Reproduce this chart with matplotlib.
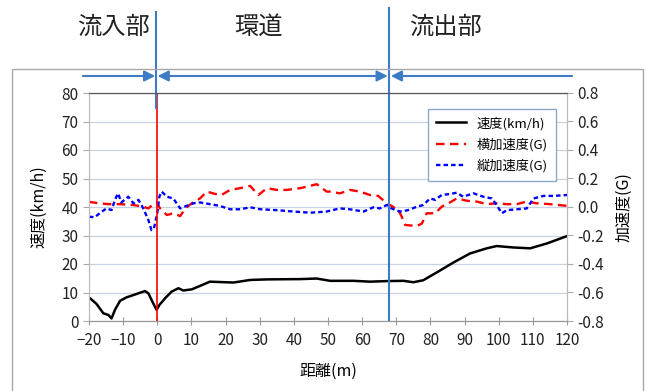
import matplotlib
matplotlib.use("Agg")
import matplotlib.pyplot as plt
import matplotlib.transforms as mtransforms
from matplotlib.patches import Rectangle

plt.rcParams['font.family'] = ['Noto Sans CJK JP', 'DejaVu Sans']

# speed (km/h) vs distance (m)
speed_x = [-20, -17.8, -15.8, -14.3, -13.4, -12.4, -10.9, -9.0, -7.0, -5.1, -3.6, -2.6, -1.2, -0.2,
           0.6, 2.3, 4.2, 6.2, 7.6, 10.1, 12.5, 15.4, 22.3, 27.2, 32.1, 41.8, 46.7, 50.6, 57.4,
           62.3, 67.2, 72.1, 75.0, 77.9, 81.8, 86.7, 91.6, 96.5, 99.4, 104.3, 109.2, 114.1, 120]
speed = [8.3, 6.0, 2.7, 2.1, 0.9, 3.9, 7.1, 8.3, 9.1, 9.9, 10.5, 9.7, 6.2, 3.9,
         5.6, 8.0, 10.3, 11.5, 10.7, 11.1, 12.3, 13.8, 13.5, 14.4, 14.6, 14.7, 14.9, 14.1, 14.1,
         13.8, 14.0, 14.1, 13.6, 14.3, 17.0, 20.5, 23.7, 25.5, 26.3, 25.8, 25.5, 27.2, 29.8]

# lateral acceleration, read on the left scale (40 -> 0.0 G)
lat_x = [-20, -17, -14.3, -10.9, -7.0, -4.1, -2.6, -1.2, -0.2, 0.8, 2.8, 4.7, 6.7, 8.2, 10.1,
         12.5, 14.5, 16.9, 18.8, 21.3, 24.2, 27.2, 29.6, 32.1, 35.0, 38.0, 41.8, 44.0, 46.7,
         49.6, 50.6, 53.5, 56.4, 59.4, 62.3, 64.7, 67.2, 68.6, 70.6, 71.6, 72.6, 76.0, 77.5,
         78.9, 81.4, 83.3, 85.3, 87.7, 90.6, 93.6, 96.5, 99.4, 102.4, 105.3, 108.2, 111.1,
         115.0, 120]
lat_raw = [41.8, 41.3, 41.0, 41.0, 40.7, 40.1, 39.5, 41.0, 41.6, 39.5, 37.2, 37.8, 36.8, 39.5,
           41.3, 43.0, 45.4, 44.6, 44.2, 46.0, 46.6, 47.4, 44.2, 46.6, 46.0, 46.0, 46.6, 47.2,
           48.0, 45.4, 45.4, 44.8, 46.0, 45.4, 44.2, 43.9, 41.3, 40.4, 38.9, 36.6, 33.7, 33.3,
           34.2, 37.8, 37.8, 40.1, 41.3, 43.0, 42.2, 41.9, 41.0, 41.3, 41.0, 41.0, 41.9, 41.3,
           41.0, 40.4]

# longitudinal acceleration, read on the left scale
lon_x = [-20, -18.3, -16.9, -14.9, -13.4, -12.4, -11.5, -10.5, -8.5, -7.0, -5.5, -4.1, -2.6,
         -1.7, -1.0, 0.0, 0.6, 1.3, 2.8, 4.7, 6.7, 8.6, 10.6, 12.5, 15.4, 18.3, 21.3, 24.3,
         27.2, 30.2, 35.0, 39.9, 44.8, 49.6, 50.6, 53.5, 56.4, 60.4, 63.3, 65.2, 67.2, 68.6,
         71.1, 73.5, 76.0, 77.9, 79.9, 81.4, 83.3, 85.3, 87.7, 89.6, 92.6, 95.5, 98.0, 99.4,
         100.9, 102.4, 105.3, 108.2, 110.2, 113.1, 116.0, 120]
lon_raw = [36.6, 36.4, 37.8, 39.5, 38.9, 42.5, 44.8, 41.6, 43.6, 41.3, 42.5, 39.5, 35.4,
           31.9, 32.4, 37.8, 43.6, 45.4, 43.6, 43.0, 39.5, 40.4, 41.3, 41.6, 41.0, 40.4, 39.2,
           39.2, 39.9, 39.2, 38.9, 38.4, 38.0, 38.4, 38.7, 39.5, 39.2, 38.4, 39.9, 39.5, 40.7,
           39.5, 38.4, 38.9, 40.1, 40.7, 43.0, 42.5, 44.2, 44.5, 45.0, 43.6, 44.8, 43.6, 43.0,
           40.7, 37.8, 38.9, 39.2, 39.5, 43.0, 43.9, 43.9, 44.2]

lat_acc = [(v - 40) / 50 for v in lat_raw]
lon_acc = [(v - 40) / 50 for v in lon_raw]

section_names = ['流入部', '環道', '流出部']
section_x = [113, 258, 445]
entry_x = 0
exit_x = 68

fig = plt.figure(figsize=(6.46, 3.91), dpi=100)
ax = fig.add_axes([89 / 646, 70 / 391, 478 / 646, 228 / 391])
ax2 = ax.twinx()

ax.set_xlim(-20, 120)
ax.set_ylim(0, 80)
ax2.set_ylim(-0.8, 0.8)
ax.set_xticks(range(-20, 121, 10))
ax.set_yticks(range(0, 81, 10))
ax2.set_yticks([-0.8, -0.6, -0.4, -0.2, 0.0, 0.2, 0.4, 0.6, 0.8])
ax2.set_yticklabels(['%.1f' % v for v in [-0.8, -0.6, -0.4, -0.2, 0.0, 0.2, 0.4, 0.6, 0.8]])

ax.grid(axis='y', color='#c8d2e2', lw=0.9)
ax.set_axisbelow(True)
for a in (ax, ax2):
    a.spines['top'].set_color('#555555')
    a.spines['left'].set_color('#bbbbbb')
    a.spines['right'].set_color('#bbbbbb')
    a.spines['bottom'].set_color('#999999')
ax.tick_params(axis='y', direction='out', length=4, color='#aaaaaa', labelsize=11, colors='#222222')
ax.tick_params(axis='x', direction='inout', length=6, color='#999999', labelsize=11,
               colors='#222222', pad=5)
ax2.tick_params(axis='y', direction='out', length=4, color='#aaaaaa', labelsize=11, colors='#222222')

l1, = ax.plot(speed_x, speed, color='black', lw=1.8, label='速度(km/h)')
l2, = ax2.plot(lat_x, lat_acc, color='#ff0000', lw=1.7, dashes=(3.6, 2.3), label='横加速度(G)')
l3, = ax2.plot(lon_x, lon_acc, color='#0000ff', lw=1.7, dashes=(1.9, 1.3), label='縦加速度(G)')

ax2.axvline(entry_x, color='red', lw=1.2)

ax.set_ylabel('速度(km/h)', fontsize=11.5, labelpad=10)
ax2.set_ylabel('加速度(G)', fontsize=11.5, labelpad=8)
ax.set_xlabel('距離(m)', fontsize=11.5, labelpad=10)

leg = ax2.legend(handles=[l1, l2, l3], loc='upper right', bbox_to_anchor=(0.99, 0.96),
                 fontsize=9.5, fancybox=False, framealpha=1, edgecolor='#8fa8c8',
                 handlelength=2.3, borderpad=0.6, labelspacing=0.6)
leg.get_frame().set_linewidth(1.0)

# section markers above the chart
blend = mtransforms.blended_transform_factory(ax.transData, fig.transFigure)
blue = '#3d7cc4'
ax2.plot([exit_x, exit_x], [1 - 8 / 391, 70 / 391], color=blue, lw=1.5,
         transform=blend, clip_on=False)
ax2.plot([entry_x - 0.5, entry_x - 0.5], [1 - 12 / 391, 1 - 108 / 391], color=blue, lw=1.5,
         transform=blend, clip_on=False)

ay = 1 - 76 / 391
arrow = dict(color=blue, lw=1.5, shrinkA=0, shrinkB=0, mutation_scale=16)
ax2.annotate('', xy=(entry_x - 0.6, ay), xytext=(-21.8, ay), xycoords=blend, textcoords=blend,
             arrowprops=dict(arrowstyle='-|>', **arrow), annotation_clip=False)
ax2.annotate('', xy=(exit_x - 0.5, ay), xytext=(entry_x + 0.1, ay), xycoords=blend, textcoords=blend,
             arrowprops=dict(arrowstyle='<|-|>', **arrow), annotation_clip=False)
ax2.annotate('', xy=(exit_x + 0.4, ay), xytext=(121.5, ay), xycoords=blend, textcoords=blend,
             arrowprops=dict(arrowstyle='-|>', **arrow), annotation_clip=False)

for name, px in zip(section_names, section_x):
    fig.text(px / 646, 1 - 27 / 391, name, fontsize=17.5, ha='center', va='center', color='#222222')

fig.patches.append(Rectangle((12 / 646, -0.01), 631 / 646, 1 - 69 / 391 + 0.01,
                             transform=fig.transFigure, fill=False, edgecolor='#a8a8a8', lw=1.0))

fig.savefig('out.png', dpi=100)
